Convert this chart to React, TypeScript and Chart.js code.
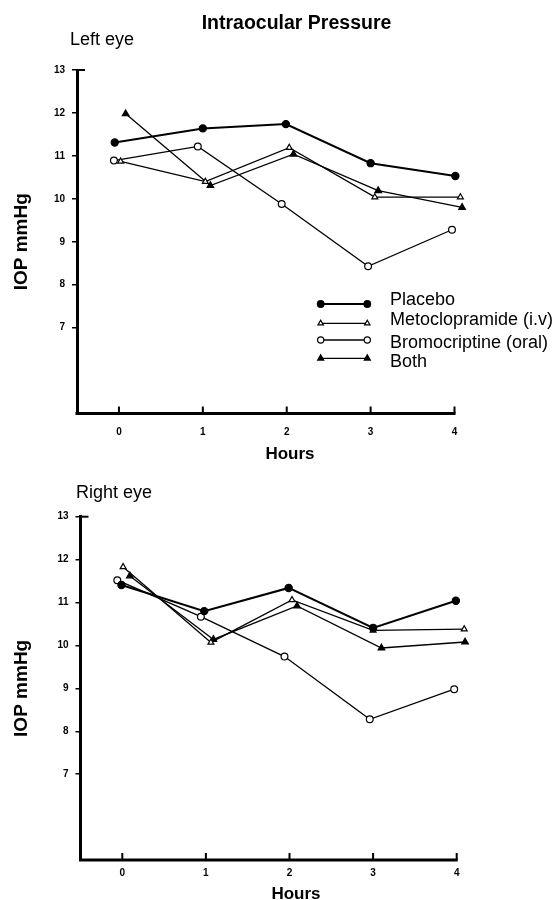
import React, { useEffect, useRef } from "react";
import { Chart, registerables } from "chart.js";

Chart.register(...registerables);

// ---------- data ----------
const HOUR_TICKS = [0, 1, 2, 3, 4];
const IOP_TICKS = [7, 8, 9, 10, 11, 12, 13];
const SERIES_NAMES = ["Placebo", "Metoclopramide (i.v)", "Bromocriptine (oral)", "Both"];

// Left eye (hours as plotted, slightly staggered in the original)
const LEFT_PLACEBO_HOURS = [-0.05, 1.0, 1.99, 3.0, 4.01];
const LEFT_PLACEBO_IOP = [11.31, 11.64, 11.74, 10.83, 10.53];
const LEFT_METO_HOURS = [0.02, 1.03, 2.03, 3.05, 4.07];
const LEFT_METO_IOP = [10.87, 10.4, 11.19, 10.04, 10.04];
const LEFT_BROMO_HOURS = [-0.06, 0.94, 1.94, 2.97, 3.97];
const LEFT_BROMO_IOP = [10.89, 11.22, 9.88, 8.43, 9.28];
const LEFT_BOTH_HOURS = [0.08, 1.09, 2.08, 3.09, 4.09];
const LEFT_BOTH_IOP = [11.98, 10.31, 11.04, 10.19, 9.8];

// Right eye
const RIGHT_PLACEBO_HOURS = [-0.01, 0.98, 1.99, 3.0, 3.99];
const RIGHT_PLACEBO_IOP = [11.41, 10.8, 11.34, 10.41, 11.04];
const RIGHT_METO_HOURS = [0.01, 1.06, 2.03, 3.0, 4.09];
const RIGHT_METO_IOP = [11.83, 10.07, 11.06, 10.35, 10.38];
const RIGHT_BROMO_HOURS = [-0.06, 0.94, 1.94, 2.96, 3.97];
const RIGHT_BROMO_IOP = [11.52, 10.67, 9.74, 8.28, 8.98];
const RIGHT_BOTH_HOURS = [0.09, 1.09, 2.09, 3.1, 4.1];
const RIGHT_BOTH_IOP = [11.62, 10.14, 10.92, 9.94, 10.08];

// axis ranges
const X_MIN = -0.5;
const X_AXIS_END = 4; // drawn axis line ends at 4 h
const X_MAX = 4.2; // room so staggered end markers are not culled
const Y_MIN = 5;
const Y_MAX = 13;

// ---------- styles ----------
const FONT = "'Liberation Sans', Arial, Helvetica, sans-serif";
const INK = "#000";
const SERIES_STYLE = [
  { pointStyle: "circle", radius: 3.6, fill: INK, width: 2 },
  { pointStyle: "triangle", radius: 3.4, fill: "#fff", width: 1.3 },
  { pointStyle: "circle", radius: 3.4, fill: "#fff", width: 1.3 },
  { pointStyle: "triangle", radius: 3.8, fill: INK, width: 1.3 },
];

type TextSpec = { text: string; x: number; y: number; size: number; bold?: boolean; align?: CanvasTextAlign };
type PanelSpec = {
  top: number;
  height: number;
  areaTop: number;
  areaLeft: number;
  axisEndX: number; // pixel where 4 h sits
  areaBottom: number;
  xTickPad: number;
  texts: TextSpec[];
  legend: boolean;
  series: { hours: number[]; iop: number[] }[];
};

const LEFT_PANEL: PanelSpec = {
  top: 0,
  height: 460,
  areaTop: 70,
  areaLeft: 77,
  axisEndX: 454.5,
  areaBottom: 413.5,
  xTickPad: 12.6,
  texts: [
    { text: "Intraocular Pressure", x: 296.5, y: 22.5, size: 19.5, bold: true, align: "center" },
    { text: "Left eye", x: 70, y: 39, size: 18, align: "left" },
    { text: "Hours", x: 290, y: 452.7, size: 17, bold: true, align: "center" },
  ],
  legend: true,
  series: [
    { hours: LEFT_PLACEBO_HOURS, iop: LEFT_PLACEBO_IOP },
    { hours: LEFT_METO_HOURS, iop: LEFT_METO_IOP },
    { hours: LEFT_BROMO_HOURS, iop: LEFT_BROMO_IOP },
    { hours: LEFT_BOTH_HOURS, iop: LEFT_BOTH_IOP },
  ],
};

const RIGHT_PANEL: PanelSpec = {
  top: 460,
  height: 440,
  areaTop: 56.7,
  areaLeft: 80.5,
  axisEndX: 456.7,
  areaBottom: 400,
  xTickPad: 7.7,
  texts: [
    { text: "Right eye", x: 76, y: 31.7, size: 18, align: "left" },
    { text: "Hours", x: 296, y: 432.7, size: 17, bold: true, align: "center" },
  ],
  legend: false,
  series: [
    { hours: RIGHT_PLACEBO_HOURS, iop: RIGHT_PLACEBO_IOP },
    { hours: RIGHT_METO_HOURS, iop: RIGHT_METO_IOP },
    { hours: RIGHT_BROMO_HOURS, iop: RIGHT_BROMO_IOP },
    { hours: RIGHT_BOTH_HOURS, iop: RIGHT_BOTH_IOP },
  ],
};

// legend layout (top panel)
const LEGEND_LINE_X = [320.7, 367.3];
const LEGEND_LINE_Y = [304, 323.3, 340, 358.3];
const LEGEND_TEXT_X = 390;
const LEGEND_TEXT_Y = [299, 318.3, 341.7, 361];
const LEGEND_FONT_SIZE = 18;

function drawMarker(ctx: CanvasRenderingContext2D, style: string, x: number, y: number, r: number, fill: string) {
  ctx.beginPath();
  if (style === "triangle") {
    let rad = 0;
    ctx.moveTo(x + Math.sin(rad) * r, y - Math.cos(rad) * r);
    rad += (2 * Math.PI) / 3;
    ctx.lineTo(x + Math.sin(rad) * r, y - Math.cos(rad) * r);
    rad += (2 * Math.PI) / 3;
    ctx.lineTo(x + Math.sin(rad) * r, y - Math.cos(rad) * r);
    ctx.closePath();
  } else {
    ctx.arc(x, y, r, 0, Math.PI * 2);
  }
  ctx.fillStyle = fill;
  ctx.fill();
  ctx.lineWidth = 1.2;
  ctx.strokeStyle = INK;
  ctx.stroke();
}

function drawText(ctx: CanvasRenderingContext2D, t: TextSpec) {
  ctx.save();
  ctx.font = `${t.bold ? "bold " : ""}${t.size}px ${FONT}`;
  ctx.fillStyle = INK;
  ctx.textAlign = t.align || "left";
  ctx.textBaseline = "alphabetic";
  ctx.fillText(t.text, t.x, t.y + 0.358 * t.size);
  ctx.restore();
}

function makeOverlay(spec: PanelSpec) {
  return {
    id: "overlay",
    afterDraw(chart: any) {
      const ctx: CanvasRenderingContext2D = chart.ctx;
      const xs = chart.scales.x;
      const ys = chart.scales.y;
      const area = chart.chartArea;
      ctx.save();
      ctx.strokeStyle = INK;
      // hour axis line, ending at 4 h
      ctx.lineWidth = 3;
      ctx.beginPath();
      ctx.moveTo(area.left - 1.5, area.bottom);
      ctx.lineTo(xs.getPixelForValue(X_AXIS_END) + 1, area.bottom);
      ctx.stroke();
      // upward tick marks on hour axis
      ctx.lineWidth = 2;
      HOUR_TICKS.forEach((h) => {
        const px = xs.getPixelForValue(h);
        ctx.beginPath();
        ctx.moveTo(px, area.bottom);
        ctx.lineTo(px, area.bottom - 7);
        ctx.stroke();
      });
      // inward tick at the top of the IOP axis
      const topY = ys.getPixelForValue(IOP_TICKS[IOP_TICKS.length - 1]);
      ctx.beginPath();
      ctx.moveTo(area.left, topY);
      ctx.lineTo(area.left + 8, topY);
      ctx.stroke();
      ctx.restore();

      spec.texts.forEach((t) => drawText(ctx, t));

      if (spec.legend) {
        chart.data.datasets.forEach((ds: any, i: number) => {
          const st = SERIES_STYLE[i];
          ctx.save();
          ctx.strokeStyle = INK;
          ctx.lineWidth = st.width;
          ctx.beginPath();
          ctx.moveTo(LEGEND_LINE_X[0], LEGEND_LINE_Y[i]);
          ctx.lineTo(LEGEND_LINE_X[1], LEGEND_LINE_Y[i]);
          ctx.stroke();
          drawMarker(ctx, st.pointStyle, LEGEND_LINE_X[0], LEGEND_LINE_Y[i], st.radius - 0.3, st.fill);
          drawMarker(ctx, st.pointStyle, LEGEND_LINE_X[1], LEGEND_LINE_Y[i], st.radius - 0.3, st.fill);
          ctx.restore();
          drawText(ctx, { text: ds.label, x: LEGEND_TEXT_X, y: LEGEND_TEXT_Y[i], size: LEGEND_FONT_SIZE, align: "left" });
        });
      }
    },
  };
}

function buildConfig(spec: PanelSpec): any {
  const pxPerHour = (spec.axisEndX - spec.areaLeft) / (X_AXIS_END - X_MIN);
  const areaRight = spec.axisEndX + (X_MAX - X_AXIS_END) * pxPerHour;

  const datasets = spec.series.map((s, i) => {
    const st = SERIES_STYLE[i];
    return {
      label: SERIES_NAMES[i],
      data: s.hours.map((h, j) => ({ x: h, y: s.iop[j] })),
      borderColor: INK,
      borderWidth: st.width,
      backgroundColor: st.fill,
      pointStyle: st.pointStyle,
      pointRadius: st.radius,
      pointBackgroundColor: st.fill,
      pointBorderColor: INK,
      pointBorderWidth: 1.2,
      tension: 0,
      fill: false,
      clip: false,
    };
  });

  return {
    type: "line",
    data: { datasets },
    options: {
      animation: false,
      responsive: false,
      events: [],
      layout: {
        padding: { top: spec.areaTop, right: 560 - areaRight, left: 0, bottom: 0 },
      },
      plugins: {
        legend: { display: false },
        title: { display: false },
        tooltip: { enabled: false },
      },
      scales: {
        x: {
          type: "linear",
          min: X_MIN,
          max: X_MAX,
          afterBuildTicks: (s: any) => {
            s.ticks = HOUR_TICKS.map((v) => ({ value: v }));
          },
          afterFit: (s: any) => {
            s.height = spec.height - spec.areaBottom;
          },
          grid: { display: true, drawOnChartArea: false, drawTicks: false },
          border: { display: false },
          ticks: {
            font: { family: FONT, size: 10, weight: "bold" },
            color: INK,
            padding: spec.xTickPad,
            maxRotation: 0,
            autoSkip: false,
          },
        },
        y: {
          type: "linear",
          min: Y_MIN,
          max: Y_MAX,
          afterBuildTicks: (s: any) => {
            s.ticks = IOP_TICKS.map((v) => ({ value: v }));
          },
          afterFit: (s: any) => {
            s.width = spec.areaLeft;
          },
          grid: { display: true, drawOnChartArea: false, drawTicks: true, tickLength: 5, color: INK, lineWidth: 1.5 },
          border: { display: true, color: INK, width: 3 },
          ticks: {
            font: { family: FONT, size: 10, weight: "bold" },
            color: INK,
            padding: 7,
            autoSkip: false,
          },
          title: {
            display: true,
            text: "IOP mmHg",
            font: { family: FONT, size: 19, weight: "bold" },
            color: INK,
            padding: { top: 10, bottom: 0 },
          },
        },
      },
    },
    plugins: [makeOverlay(spec)],
  };
}

function Panel({ spec }: { spec: PanelSpec }) {
  const ref = useRef<HTMLCanvasElement>(null);
  useEffect(() => {
    if (!ref.current) return;
    const chart = new Chart(ref.current, buildConfig(spec));
    return () => chart.destroy();
  }, [spec]);
  return (
    <canvas
      ref={ref}
      width={560}
      height={spec.height}
      style={{ position: "absolute", left: 0, top: spec.top, width: 560, height: spec.height, display: "block" }}
    />
  );
}

export default function App() {
  return (
    <div style={{ position: "absolute", left: 0, top: 0, width: 560, height: 900, background: "#fff" }}>
      <Panel spec={LEFT_PANEL} />
      <Panel spec={RIGHT_PANEL} />
    </div>
  );
}
